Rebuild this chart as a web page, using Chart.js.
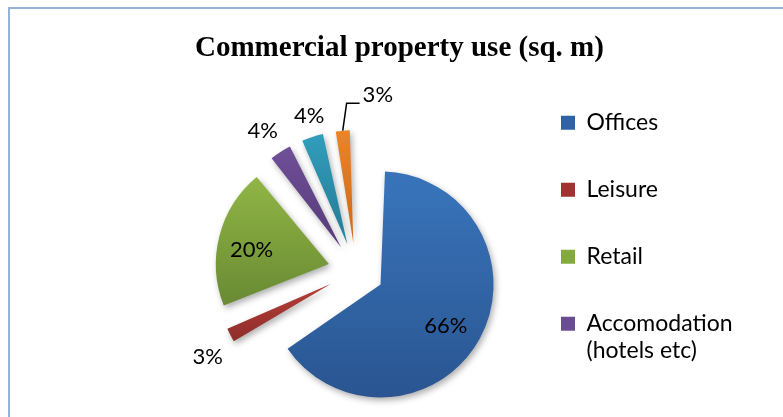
<!DOCTYPE html>
<html>
<head>
<meta charset="utf-8">
<script src="https://cdn.jsdelivr.net/npm/chart.js@4.4.1/dist/chart.umd.min.js"></script>
<style>
  html, body { margin: 0; padding: 0; background: #fff; overflow: hidden; width: 783px; height: 417px; }
  #frame { position: absolute; left: 8px; top: 7px; width: 1000px; height: 1000px;
           border-left: 2px solid #95b3d7; border-top: 2px solid #95b3d7; }
  #chart { position: absolute; left: 0; top: 0; }
</style>
</head>
<body>
<div id="frame"></div>
<canvas id="chart" width="783" height="520"></canvas>
<script>
// Floor-space shares by use (per cent of sq. m)
const categories = ['Offices', 'Leisure', 'Retail', ['Accomodation ', '(hotels etc)'], 'Other 1', 'Other 2'];
const shares = [66, 3, 20, 4, 4, 3];
const legendRows = 4;            // rows of the legend that sit inside the frame

// Slice styling
const sliceTop    = ['#3873b9', '#ad3a34', '#93b846', '#77559f', '#33a7c6', '#f38c2d'];
const sliceBottom = ['#29538e', '#842927', '#6b8c34', '#5b3f80', '#28829d', '#d36f1e'];
const legendFill  = ['#3063a6', '#a0332f', '#84a93f', '#6a4c92', '#2e97b4', '#e47e26'];
const pieRadius = 113;           // drawn radius of every slice, px
const explode = 28;              // distance each slice is pulled out, px
const labelNudge = [[0, 5], [2, 9], [-5, 4], [-4, 1], [4, 1], [37, -15]];

// Legend settings and the plot box they leave for the pie
const legendFont = { family: 'Lato', size: 23, lineHeight: 1.17 };
const legendBox = 14, legendPad = 44;
const plotLeft = 195, plotRight = 517;

// Same width rule the legend uses: longest line (by characters) of each label
function legendWidth() {
  const c = document.createElement('canvas').getContext('2d');
  c.font = legendFont.size + 'px ' + legendFont.family;
  let widest = 0;
  categories.slice(0, legendRows).forEach(t => {
    const s = Array.isArray(t) ? t.reduce((a, b) => a.length > b.length ? a : b) : t;
    widest = Math.max(widest, c.measureText(s).width);
  });
  return legendPad + legendBox + legendFont.size / 2 + widest + 10;
}

function sliceGradient(ctx) {
  const chart = ctx.chart;
  const area = chart.chartArea;
  const i = ctx.dataIndex;
  if (!area) return sliceTop[i];
  const total = shares.reduce((a, b) => a + b, 0);
  let start = -Math.PI / 2;
  for (let k = 0; k < i; k++) start += shares[k] / total * Math.PI * 2;
  const end = start + shares[i] / total * Math.PI * 2;
  const mid = (start + end) / 2;
  const cx = (area.left + area.right) / 2 + Math.cos(mid) * explode;
  const cy = (area.top + area.bottom) / 2 + Math.sin(mid) * explode;
  let y0 = cy, y1 = cy;
  for (let s = 0; s <= 24; s++) {
    const a = start + (end - start) * s / 24;
    const y = cy + Math.sin(a) * pieRadius;
    y0 = Math.min(y0, y); y1 = Math.max(y1, y);
  }
  if (start < Math.PI / 2 && end > Math.PI / 2) y1 = cy + pieRadius;
  const g = chart.ctx.createLinearGradient(0, y0, 0, y1);
  g.addColorStop(0, sliceTop[i]);
  g.addColorStop(1, sliceBottom[i]);
  return g;
}

// Keeps every exploded slice at the same drawn radius and adds a soft shadow
const sliceShape = {
  id: 'sliceShape',
  beforeDatasetsDraw(chart) {
    const meta = chart.getDatasetMeta(0);
    const shift = chart.data.datasets[0].offset / 4;
    meta.data.forEach(arc => {
      const fix = 1 - Math.sin(Math.min(Math.PI, arc.circumference));
      arc.outerRadius = pieRadius - shift * fix;
    });
    const ctx = chart.ctx;
    ctx.save();
    ctx.shadowColor = 'rgba(0,0,0,0.32)';
    ctx.shadowBlur = 6;
    ctx.shadowOffsetX = 2;
    ctx.shadowOffsetY = 3;
  },
  afterDatasetsDraw(chart) {
    chart.ctx.restore();
  }
};

// Percentage labels, inside large slices and outside small ones
const pctLabels = {
  id: 'pctLabels',
  afterDatasetsDraw(chart) {
    const ctx = chart.ctx;
    const meta = chart.getDatasetMeta(0);
    const total = shares.reduce((a, b) => a + b, 0);
    ctx.save();
    ctx.font = '22px Lato';
    ctx.fillStyle = '#000';
    ctx.strokeStyle = '#000';
    ctx.lineWidth = 1.5;
    ctx.textAlign = 'center';
    ctx.textBaseline = 'middle';
    meta.data.forEach((arc, i) => {
      const mid = (arc.startAngle + arc.endAngle) / 2;
      const dx = Math.cos(mid), dy = Math.sin(mid);
      const cx = arc.x + dx * explode, cy = arc.y + dy * explode;
      const text = Math.round(shares[i] / total * 100) + '%';
      const w = ctx.measureText(text).width, h = 18;
      let lx, ly;
      if (shares[i] / total >= 0.1) {
        lx = cx + dx * pieRadius * 0.66;
        ly = cy + dy * pieRadius * 0.66;
      } else {
        const d = pieRadius + 10 + Math.abs(dx) * w / 2 + Math.abs(dy) * h / 2;
        lx = cx + dx * d;
        ly = cy + dy * d;
      }
      const [nx, ny] = labelNudge[i];
      lx += nx; ly += ny;
      if (Math.hypot(nx, ny) > 20) {
        const left = lx - w / 2;
        ctx.beginPath();
        ctx.moveTo(cx + dx * pieRadius, cy + dy * pieRadius);
        ctx.lineTo(left - 16, ly + 8);
        ctx.lineTo(left - 3, ly + 8);
        ctx.stroke();
      }
      ctx.fillText(text, lx, ly);
    });
    ctx.restore();
  }
};

const padRight = 783 - plotRight - legendWidth();

new Chart(document.getElementById('chart'), {
  type: 'pie',
  data: {
    labels: categories,
    datasets: [{
      data: shares,
      backgroundColor: sliceGradient,
      borderWidth: 0,
      offset: explode * 4,
      radius: pieRadius - explode
    }]
  },
  options: {
    responsive: false,
    animation: false,
    events: [],
    layout: { padding: { left: plotLeft, right: padRight, top: 0, bottom: 42.9 } },
    plugins: {
      title: {
        display: true,
        align: 'start',
        text: 'Commercial property use (sq. m)',
        color: '#000',
        font: { family: 'Liberation Serif', size: 29, weight: 'bold', lineHeight: 1.1 },
        padding: { top: 33, bottom: 0 }
      },
      legend: {
        position: 'right',
        align: 'center',
        labels: {
          color: '#000',
          font: legendFont,
          boxWidth: legendBox,
          boxHeight: legendBox,
          padding: legendPad,
          filter: item => item.index < legendRows,
          generateLabels(chart) {
            return Chart.overrides.pie.plugins.legend.labels.generateLabels(chart).map((item, i) => {
              item.fillStyle = legendFill[i];
              item.strokeStyle = legendFill[i];
              item.lineWidth = 0;
              return item;
            });
          }
        }
      },
      tooltip: { enabled: false }
    }
  },
  plugins: [sliceShape, pctLabels]
});
</script>
</body>
</html>
